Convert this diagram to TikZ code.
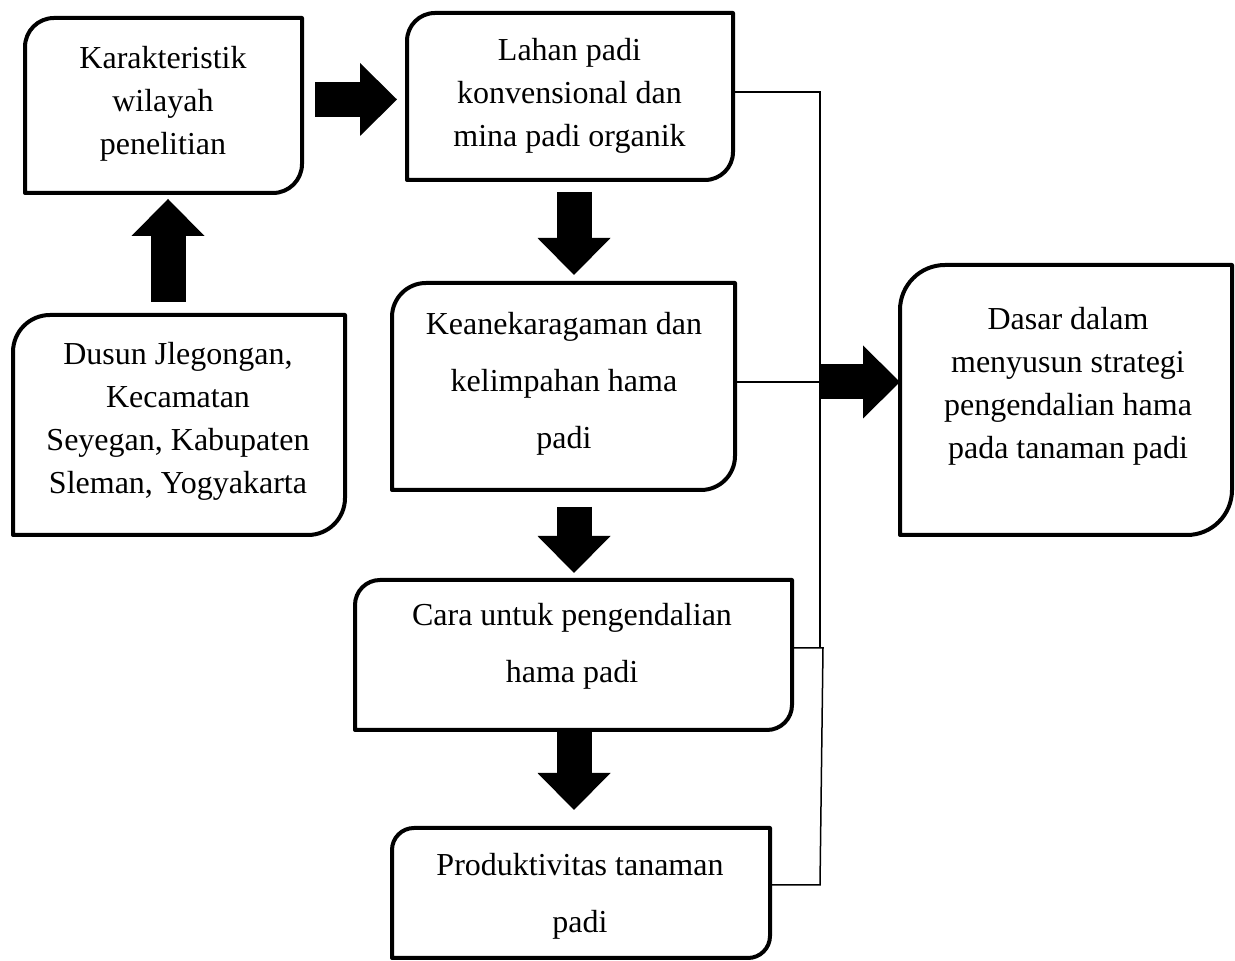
\documentclass[tikz,border=0pt]{standalone}
\usepackage{fontspec}
\setmainfont{Liberation Serif}
\usetikzlibrary{calc}
\usetikzlibrary{arrows.meta}

% box with round top-left and bottom-right corners
\newcommand\kotak[2]{%
  \draw[tepi] (#1.south west) -- ([yshift=-#2]#1.north west)
    arc[start angle=180,end angle=90,radius=#2] -- (#1.north east)
    -- ([yshift=#2]#1.south east)
    arc[start angle=0,end angle=-90,radius=#2] -- cycle;}

\tikzset{
  kotak/.style={draw=none,inner sep=0pt,outer sep=0pt},
  tepi/.style={line width=4pt,line join=round},
  teks/.style={align=center,font=\fontsize{32}{43}\selectfont},
  teksjarang/.style={align=center,font=\fontsize{32}{57}\selectfont},
  panah/.style={line width=35pt,-{Triangle[width=73pt,length=37pt,line width=0pt]}},
  garis/.style={line width=1.5pt}
}

\begin{document}
\begin{tikzpicture}[x=1pt,y=1pt]
\useasboundingbox (0,0) rectangle (1235,961);

% boxes
\node[kotak,minimum width=277pt,minimum height=175pt] (kar) at (163.5,855.5) {};
\node[kotak,minimum width=326pt,minimum height=167pt] (lahan) at (570,864.5) {};
\node[kotak,minimum width=332pt,minimum height=220pt] (dusun) at (179,536) {};
\node[kotak,minimum width=343pt,minimum height=207pt] (keane) at (563.5,574.5) {};
\node[kotak,minimum width=332pt,minimum height=270pt] (dasar) at (1066,561) {};
\node[kotak,minimum width=437pt,minimum height=150pt] (cara) at (573.5,306) {};
\node[kotak,minimum width=378pt,minimum height=130pt] (prod) at (581,68) {};

\kotak{kar}{29pt}
\kotak{lahan}{28pt}
\kotak{dusun}{37pt}
\kotak{keane}{34pt}
\kotak{dasar}{45pt}
\kotak{cara}{25pt}
\kotak{prod}{22pt}

% texts
\node[teks] (kar-t) at (163,857) {Karakteristik\\wilayah\\penelitian};
\node[teks] (lahan-t) at (569.5,865) {Lahan padi\\konvensional dan\\mina padi organik};
\node[teks] (dusun-t) at (178,540) {Dusun Jlegongan,\\Kecamatan\\Seyegan, Kabupaten\\Sleman, Yogyakarta};
\node[teksjarang] (keane-t) at (564,577) {Keanekaragaman dan\\kelimpahan hama\\padi};
\node[teks] (dasar-t) at (1068,575) {Dasar dalam\\menyusun strategi\\pengendalian hama\\pada tanaman padi};
\node[teksjarang] (cara-t) at (572,314.5) {Cara untuk pengendalian\\hama padi};
\node[teksjarang] (prod-t) at (580,64.5) {Produktivitas tanaman\\padi};

% thin connectors
\coordinate (cabang) at (820,579);
\coordinate (bawah) at (820,313);
\coordinate (siku1) at (823,313);
\coordinate (siku2) at (820,76);
\draw[garis] ([yshift=4.5pt]lahan.east) -| (bawah);
\draw[garis] ([yshift=4.5pt]keane.east) -- (cabang);
\draw[garis] ([yshift=7pt]cara.east) -- (siku1) -- (siku2) -- ([yshift=8pt]prod.east);

% block arrows
\draw[panah,shorten <=13pt,shorten >=10pt] ([yshift=6pt]kar.east) -- ([yshift=-3pt]lahan.west);
\draw[panah,shorten <=13pt,shorten >=6pt] ([xshift=-11pt]dusun.north) -- ([xshift=4.5pt]kar.south);
\draw[panah,shorten <=12pt,shorten >=8pt] ([xshift=4pt]lahan.south) -- ([xshift=10.5pt]keane.north);
\draw[panah,shorten <=17pt,shorten >=7pt] ([xshift=10.5pt]keane.south) -- ([xshift=0.5pt]cara.north);
\draw[panah,shorten >=18pt] ([xshift=0.5pt]cara.south) -- ([xshift=-7pt]prod.north);
\draw[panah] (cabang) -- (cabang -| dasar.west);
\end{tikzpicture}
\end{document}
